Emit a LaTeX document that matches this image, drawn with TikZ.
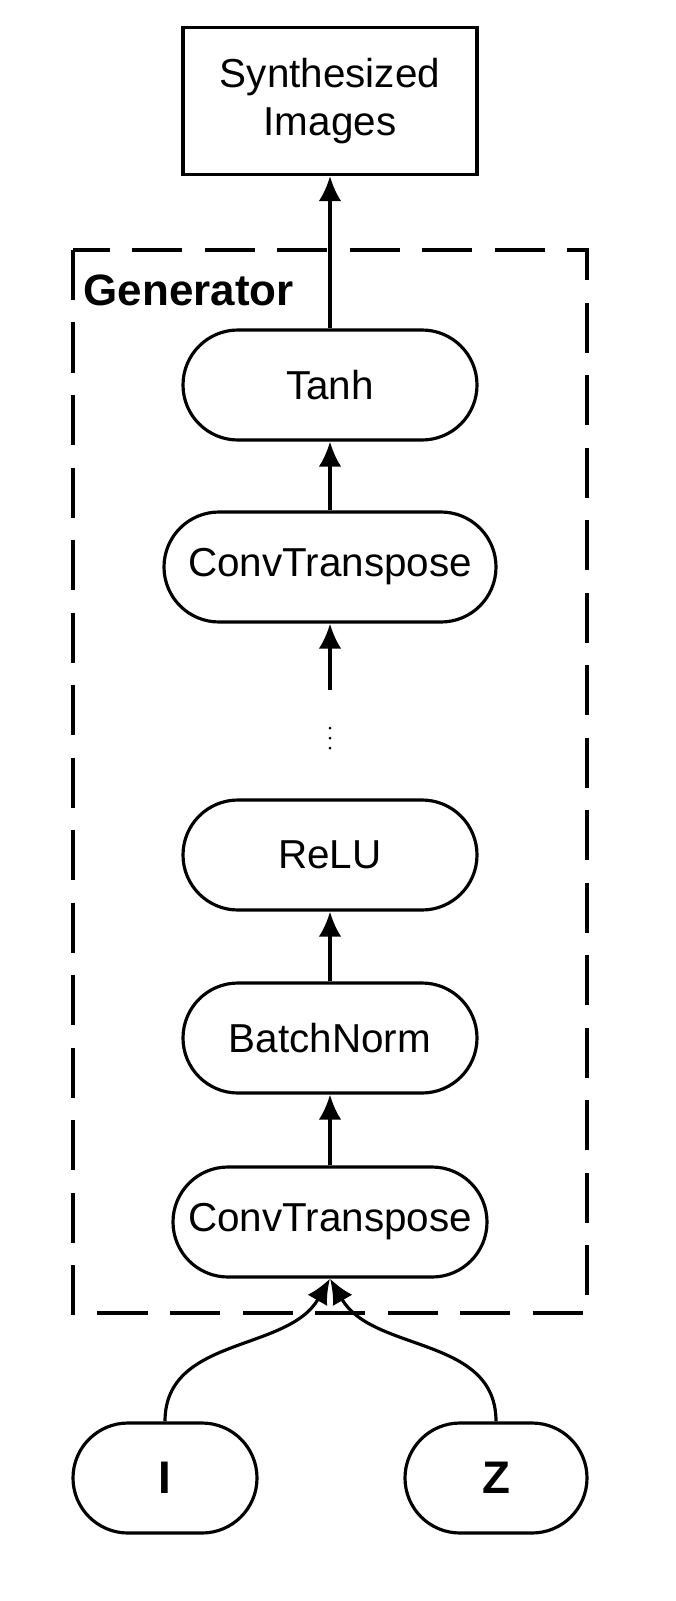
\documentclass[tikz,border=0pt]{standalone}
\usepackage{fontspec}
\setmainfont{Liberation Sans}
\usetikzlibrary{arrows.meta}

\tikzset{
  layer/.style={draw, line width=1.8pt, rounded corners=1.1cm, minimum height=2.2cm,
    inner sep=0pt, font=\fontsize{23}{27}\selectfont},
  flow/.style={-{Latex[length=0.5cm,width=0.45cm]}, line width=1.8pt}
}

\begin{document}
\begin{tikzpicture}
\useasboundingbox (0,0) rectangle (13.5,-32.02);

% Generator frame
\draw[line width=1.8pt, dash pattern=on 1cm off 0.45cm] (1.46,-5) rectangle (11.74,-26.26);
\node[anchor=west, font=\bfseries\fontsize{25}{29}\selectfont] (gen) at (1.55,-5.8) {Generator};

% Output
\node[draw, line width=1.8pt, minimum width=5.88cm, minimum height=2.94cm,
  align=center, font=\fontsize{23}{27}\selectfont] (out) at (6.6,-2.02) {Synthesized\\Images};

% Layers
\node[layer, minimum width=5.88cm] (tanh) at (6.6,-7.7) {Tanh};
\node[layer, minimum width=6.64cm] (convB) at (6.6,-11.34) {ConvTranspose};
\coordinate (dots) at (6.6,-14.76);
\foreach \d in {-0.2,0,0.2}
  \fill ([yshift=\d cm]dots) circle (0.03);
\node[layer, minimum width=5.88cm] (relu) at (6.6,-17.1) {ReLU};
\node[layer, minimum width=5.88cm] (bn) at (6.6,-20.76) {BatchNorm};
\node[layer, minimum width=6.28cm] (convA) at (6.6,-24.44) {ConvTranspose};

% Inputs
\node[layer, minimum width=3.68cm, font=\bfseries\fontsize{26}{30}\selectfont] (inI) at (3.3,-29.56) {I};
\node[layer, minimum width=3.64cm, font=\bfseries\fontsize{26}{30}\selectfont] (inZ) at (9.92,-29.56) {Z};

% Connectors
\draw[flow] (tanh) -- (out);
\draw[flow] (convB) -- (tanh);
\coordinate (gap) at (6.6,-13.8);
\draw[flow] (gap) -- (convB);
\draw[flow] (bn) -- (relu);
\draw[flow] (convA) -- (bn);
\draw[flow] (inI.north) to[out=90, in=-120] (convA.south);
\draw[flow] (inZ.north) to[out=90, in=-60] (convA.south);
\end{tikzpicture}
\end{document}
